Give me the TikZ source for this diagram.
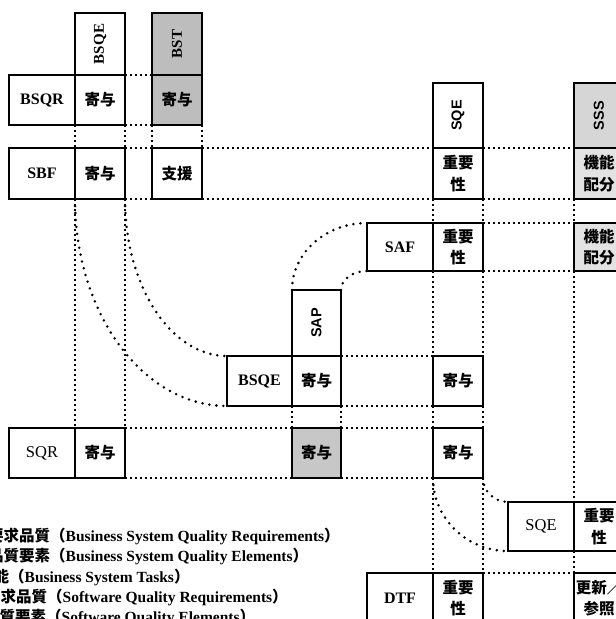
\documentclass[tikz,border=0pt]{standalone}
\usepackage{fontspec}
\setmainfont{Liberation Serif}
\newfontfamily\cjk{Noto Sans CJK JP}
\newfontfamily\sanslbl{Liberation Sans}
\newcommand{\vlabel}[1]{\rotatebox{90}{#1}}
\begin{document}
\begin{tikzpicture}[x=1pt,y=-1pt,
  box/.style={draw,line width=2.3pt,inner sep=0pt,outer sep=0pt,anchor=north west,
    minimum width=50pt,minimum height=50pt,align=center},
  lbl/.style={font=\fontsize{16}{16}\selectfont\bfseries},
  lblm/.style={font=\fontsize{16.5}{16.5}\selectfont},
  vser/.style={font=\fontsize{15}{15}\selectfont\bfseries},
  vsan/.style={font=\fontsize{14.5}{14.5}\selectfont\sanslbl\bfseries},
  jp/.style={font=\fontsize{15.5}{21.5}\selectfont\cjk\bfseries},
  shA/.style={fill=black!26},
  shB/.style={fill=black!22},
  shC/.style={fill=black!16},
  shD/.style={fill=black!11},
  dl/.style={line width=2pt,dash pattern=on 2.2pt off 2.8pt},
  cl/.style={line width=2.8pt,line cap=round,dash pattern=on 0pt off 7pt},
  leg/.style={anchor=base west,inner sep=0pt,font=\fontsize{15.5}{15.5}\selectfont\bfseries}
]
\useasboundingbox (0,0) rectangle (616,619);
\clip (0,0) rectangle (616,619);

% boxes
\node[box,vser,minimum height=62pt] (hBSQE) at (75,13) {\vlabel{BSQE}};
\node[box,vser,shA,minimum height=62pt] (hBST) at (152,13) {\vlabel{BST}};
\node[box,lbl,minimum width=66pt] (bsqr) at (9,75) {BSQR};
\node[box,jp] (c11) at (75,75) {寄与};
\node[box,jp,shA] (c12) at (152,75) {寄与};
\node[box,lbl,minimum width=66pt,minimum height=51pt] (sbf) at (9,148) {SBF};
\node[box,jp,minimum height=51pt] (c21) at (75,148) {寄与};
\node[box,jp,minimum height=51pt] (c22) at (152,148) {支援};
\node[box,vsan,minimum height=65pt] (hSQE) at (433,83) {\vlabel{SQE}};
\node[box,vsan,shC,minimum height=65pt] (hSSS) at (574,83) {\vlabel{SSS}};
\node[box,jp,minimum height=51pt] (c23) at (433,148) {重要\\性};
\node[box,jp,shD,minimum height=51pt] (c24) at (574,148) {機能\\配分};
\node[box,lbl,minimum width=66pt,minimum height=48pt] (saf) at (367,223) {SAF};
\node[box,jp,minimum height=48pt] (c33) at (433,223) {重要\\性};
\node[box,jp,shD,minimum height=48pt] (c34) at (574,223) {機能\\配分};
\node[box,vsan,minimum width=49pt,minimum height=66pt] (hSAP) at (292,290) {\vlabel{SAP}};
\node[box,lbl,minimum width=65pt] (bsqe) at (227,356) {BSQE};
\node[box,jp,minimum width=49pt] (c42) at (292,356) {寄与};
\node[box,jp] (c43) at (433,356) {寄与};
\node[box,lblm,minimum width=66pt] (sqr) at (9,428) {SQR};
\node[box,jp] (c51) at (75,428) {寄与};
\node[box,jp,shB,minimum width=49pt] (c52) at (292,428) {寄与};
\node[box,jp] (c53) at (433,428) {寄与};
\node[box,lblm,minimum width=66pt,minimum height=49pt] (sqe) at (508,502) {SQE};
\node[box,jp,minimum height=49pt] (c64) at (574,502) {重要\\性};
\node[box,lbl,minimum width=66pt] (dtf) at (367,573) {DTF};
\node[box,jp] (c73) at (433,573) {重要\\性};
\node[box,jp] (c74) at (574,573) {更新／\\参照};

% dotted straight connectors
\draw[dl] (c11.north east) -- (c12.north west);
\draw[dl] (c11.south east) -- (c12.south west);
\draw[dl] (c11.south west) -- (c21.north west);
\draw[dl] (c11.south east) -- (c21.north east);
\draw[dl] (c12.south west) -- (c22.north west);
\draw[dl] (c12.south east) -- (c22.north east);
\draw[dl] (c21.north east) -- (c22.north west);
\draw[dl] (c21.south east) -- (c22.south west);
\draw[dl] (c22.north east) -- (c23.north west);
\draw[dl] (c22.south east) -- (c23.south west);
\draw[dl] (c23.north east) -- (c24.north west);
\draw[dl] (c23.south east) -- (c24.south west);
\draw[dl] (c23.south west) -- (c33.north west);
\draw[dl] (c23.south east) -- (c33.north east);
\draw[dl] (c24.south west) -- (c34.north west);
\draw[dl] (c33.north east) -- (c34.north west);
\draw[dl] (c33.south east) -- (c34.south west);
\draw[dl] (c33.south west) -- (c43.north west);
\draw[dl] (c33.south east) -- (c43.north east);
\draw[dl] (c34.south west) -- (c64.north west);
\draw[dl] (c64.south west) -- (c74.north west);
\draw[dl] (c42.north east) -- (c43.north west);
\draw[dl] (c42.south east) -- (c43.south west);
\draw[dl] (c42.south west) -- (c52.north west);
\draw[dl] (c42.south east) -- (c52.north east);
\draw[dl] (c43.south west) -- (c53.north west);
\draw[dl] (c43.south east) -- (c53.north east);
\draw[dl] (c21.south west) -- (c51.north west);
\draw[dl] (c21.south east) -- (c51.north east);
\draw[dl] (c51.north east) -- (c52.north west);
\draw[dl] (c51.south east) -- (c52.south west);
\draw[dl] (c52.north east) -- (c53.north west);
\draw[dl] (c52.south east) -- (c53.south west);
\draw[dl] (c53.south west) -- (c73.north west);
\draw[dl] (c53.south east) -- (c73.north east);
\draw[dl] (c73.north east) -- (c74.north west);

% dotted curves
\draw[cl] (c21.south east) .. controls +(0,86.7) and +(-56.3,0) .. (bsqe.north west);
\draw[cl] (c21.south west) .. controls +(0,114.3) and +(-84,0) .. (bsqe.south west);
\draw[cl] (hSAP.north west) .. controls +(0,-37) and +(-41.4,0) .. (saf.north west);
\draw[cl] (hSAP.north east) .. controls +(0,-10.5) and +(-14.4,0) .. (saf.south west);
\draw[cl] (c53.south east) .. controls +(0,13.3) and +(-13.8,0) .. (sqe.north west);
\draw[cl] (c53.south west) .. controls +(0,40.3) and +(-41.4,0) .. (sqe.south west);

% legend
\node[leg] (L1) at (50,541) {\llap{\cjk\bfseries 要求品質}{\cjk\bfseries （}Business System Quality Requirements{\cjk\bfseries ）}};
\node[leg] (L2) at (50,561) {\llap{\cjk\bfseries 品質要素}{\cjk\bfseries （}Business System Quality Elements{\cjk\bfseries ）}};
\node[leg] (L3) at (9,582) {\llap{\cjk\bfseries 能}{\cjk\bfseries （}Business System Tasks{\cjk\bfseries ）}};
\node[leg] (L4) at (47,602) {\llap{\cjk\bfseries 求品質}{\cjk\bfseries （}Software Quality Requirements{\cjk\bfseries ）}};
\node[leg] (L5) at (46,622) {\llap{\cjk\bfseries 質要素}{\cjk\bfseries （}Software Quality Elements{\cjk\bfseries ）}};
\end{tikzpicture}
\end{document}
